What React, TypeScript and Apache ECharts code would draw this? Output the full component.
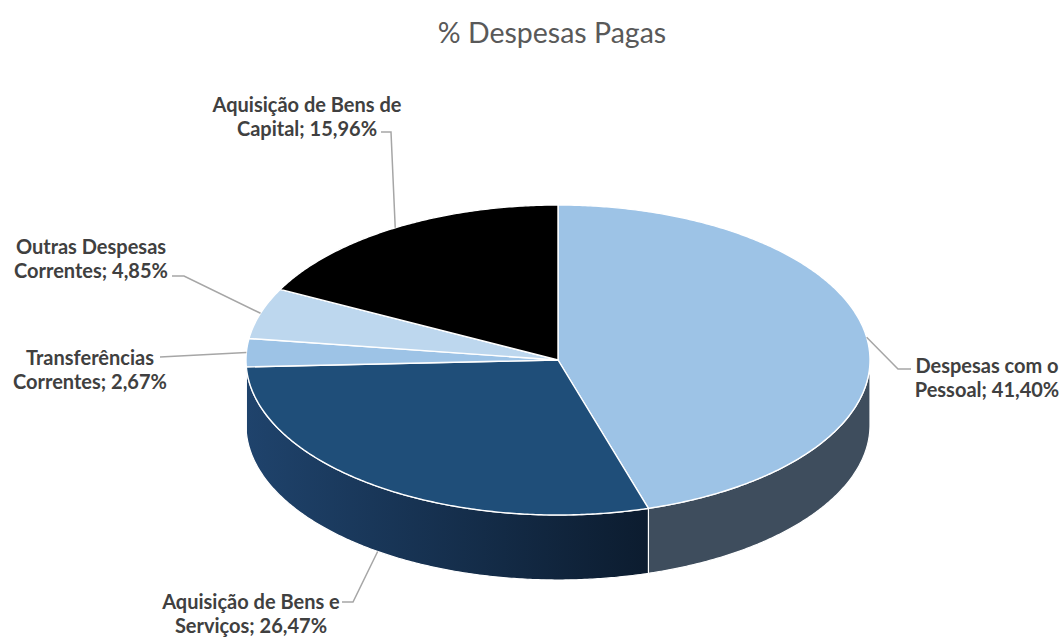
import React, { useEffect, useRef } from "react";
import * as echarts from "echarts";

// ---- data ----
const TITLE = "% Despesas Pagas";
const CATEGORIES = [
  "Despesas com o Pessoal",
  "Aquisição de Bens e Serviços",
  "Transferências Correntes",
  "Outras Despesas Correntes",
  "Aquisição de Bens de Capital",
];
const VALUES = [41.4, 26.47, 2.67, 4.85, 15.96];

// ---- styles / layout (not data) ----
const TOP_COLORS = ["#9DC3E6", "#1F4E79", "#9DC3E6", "#BDD7EE", "#000000"];
const SIDE_COLORS: any[] = [
  "#3E4D5D",
  ["#1F436C", "#0C1C2F"],
  "#4F6577",
  "#5E6B77",
  "#000000",
];
const LABEL_FIRST_LINE_WORDS = [3, 4, 1, 2, 4];
const LABEL_CENTERS = [
  [987, 377],
  [251, 613],
  [90, 369],
  [91, 258],
  [307, 116],
];
const LEADER_BENDS = [
  [[898, 369], [911, 369]],
  [[353, 602], [342, 602]],
  [[160, 357]],
  [[184, 276], [172, 276]],
  [[391, 132], [381, 132]],
];
const PIE = { cx: 558, cy: 360, rx: 312, ry: 155, depth: 65 };
const LABEL_FONT = "Lato";
const LABEL_SIZE = 20;

function pt(deg: number, dy = 0): number[] {
  const r = (deg * Math.PI) / 180;
  return [PIE.cx + PIE.rx * Math.sin(r), PIE.cy - PIE.ry * Math.cos(r) + dy];
}

function arc(a: number, b: number, dy = 0): number[][] {
  const pts: number[][] = [];
  const n = Math.max(2, Math.ceil(Math.abs(b - a) / 0.5));
  for (let i = 0; i <= n; i++) pts.push(pt(a + ((b - a) * i) / n, dy));
  return pts;
}

function fmt(v: number) {
  return v.toFixed(2).replace(".", ",") + "%";
}

function renderItem(params: any, api: any) {
  const i = params.dataIndex;
  const total = VALUES.reduce((s, v) => s + v, 0);
  const before = VALUES.slice(0, i).reduce((s, v) => s + v, 0);
  const v = api.value(0);
  const a = (before / total) * 360;
  const b = ((before + v) / total) * 360;
  const children: any[] = [];

  // side wall (front half only: 90..270 degrees)
  const wa = Math.max(a, 90);
  const wb = Math.min(b, 270);
  if (wa < wb) {
    const pts = arc(wa, wb).concat(arc(wb, wa, PIE.depth));
    const sc = SIDE_COLORS[i];
    const fill = Array.isArray(sc)
      ? new echarts.graphic.LinearGradient(0, 0, 1, 0, [
          { offset: 0, color: sc[0] },
          { offset: 1, color: sc[1] },
        ])
      : sc;
    children.push({
      type: "polygon",
      shape: { points: pts },
      style: { fill, stroke: "#FFFFFF", lineWidth: 1.2 },
    });
  }

  // top face
  const top = [[PIE.cx, PIE.cy]].concat(arc(a, b));
  children.push({
    type: "polygon",
    shape: { points: top },
    style: { fill: TOP_COLORS[i], stroke: "#FFFFFF", lineWidth: 1.4 },
  });

  // leader line
  const mid = (a + b) / 2;
  const anchor = pt(mid, Math.cos((mid * Math.PI) / 180) < 0 ? PIE.depth : 0);
  children.push({
    type: "polyline",
    shape: { points: [anchor].concat(LEADER_BENDS[i]) },
    style: { stroke: "#A6A6A6", lineWidth: 1.5, fill: null },
  });

  // label
  const words = `${CATEGORIES[i]}; ${fmt(v)}`.split(" ");
  const k = LABEL_FIRST_LINE_WORDS[i];
  const text = words.slice(0, k).join(" ") + "\n" + words.slice(k).join(" ");
  children.push({
    type: "text",
    style: {
      text,
      x: LABEL_CENTERS[i][0],
      y: LABEL_CENTERS[i][1],
      fill: "#404040",
      font: `bold ${LABEL_SIZE}px ${LABEL_FONT}`,
      fontFamily: LABEL_FONT,
      fontSize: LABEL_SIZE,
      fontWeight: "bold",
      align: "center",
      verticalAlign: "middle",
      lineHeight: 24,
    },
  });

  return { type: "group", children };
}

export default function App() {
  const ref = useRef<HTMLDivElement>(null);
  useEffect(() => {
    if (!ref.current) return;
    const chart = echarts.init(ref.current, null, { renderer: "svg" });
    chart.setOption({
      animation: false,
      backgroundColor: "#FFFFFF",
      title: {
        text: TITLE,
        left: 547,
        top: 12,
        textAlign: "center",
        textStyle: {
          color: "#595959",
          fontFamily: LABEL_FONT,
          fontSize: 28.5,
          fontWeight: "normal",
        },
      },
      series: [
        {
          type: "custom",
          coordinateSystem: "none",
          silent: true,
          renderItem,
          data: VALUES.map((v, i) => ({ name: CATEGORIES[i], value: v })),
        },
      ],
    });
    return () => chart.dispose();
  }, []);
  return (
    <div
      ref={ref}
      style={{ position: "absolute", left: 0, top: 0, width: 1062, height: 639 }}
    />
  );
}
